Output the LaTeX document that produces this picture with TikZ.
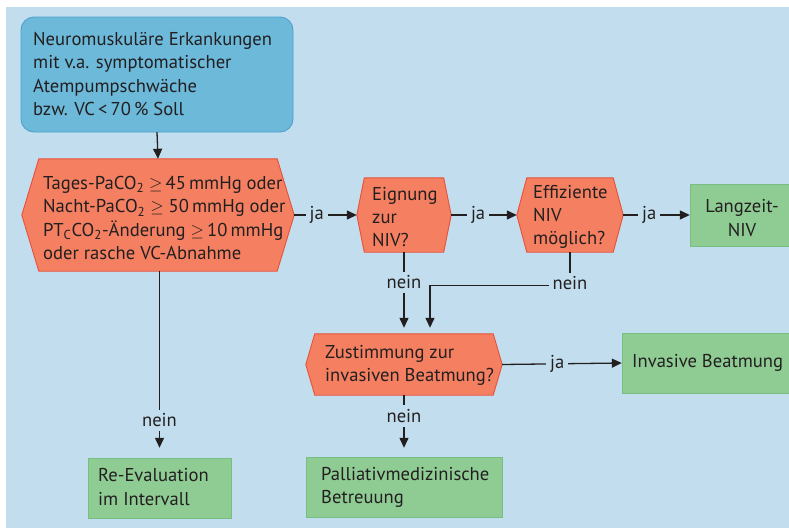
\documentclass[tikz,border=0pt]{standalone}
\usepackage{fontspec}
\setmainfont{PT Sans}
\usetikzlibrary{arrows.meta,calc}
\definecolor{bg}{RGB}{194,222,238}
\definecolor{topfill}{RGB}{108,185,218}
\definecolor{topdraw}{RGB}{80,160,204}
\definecolor{hexfill}{RGB}{244,128,97}
\definecolor{hexdraw}{RGB}{232,80,58}
\definecolor{grfill}{RGB}{143,204,148}
\definecolor{grdraw}{RGB}{120,190,130}
\definecolor{ink}{RGB}{35,31,32}
\tikzset{
  txt/.style={inner sep=0pt, anchor=west, align=left, text=ink,
    font=\fontsize{18.6}{23.2}\selectfont},
  geo/.style={draw=none, inner sep=0pt, minimum width=#1},
  hexstyle/.style={fill=hexfill, draw=hexdraw, line width=0.9pt},
  grbox/.style={fill=grfill, draw=grdraw, line width=0.9pt},
  conn/.style={draw=ink, line width=1.3pt, -{Triangle[length=10pt,width=9pt]}},
  plain/.style={draw=ink, line width=1.3pt},
  lab/.style={fill=bg, inner sep=4pt, text=ink, font=\fontsize{18.6}{20}\selectfont}
}
\newcommand\hexdraw[2]{\draw[hexstyle] (#1.west) -- ([xshift=#2]#1.north west) -- ([xshift=-#2]#1.north east) -- (#1.east) -- ([xshift=-#2]#1.south east) -- ([xshift=#2]#1.south west) -- cycle;}
\newcommand\gE{\ensuremath{\geq}}
\begin{document}
\begin{tikzpicture}[x=1pt,y=-1pt]
\useasboundingbox (0,0) rectangle (789,528);
\fill[bg] (6,7) rectangle (789,528);
% top box
\draw[fill=topfill, draw=topdraw, line width=0.9pt, rounded corners=13pt] (21,17) rectangle (293,132);
\node[geo=272pt, minimum height=115pt] (top) at (157,74.5) {};
\node[txt, font=\fontsize{18.6}{23.6}\selectfont] (toptxt) at (33,74) {Neuromuskuläre Erkankungen\\mit v.a. symptomatischer\\Atempumpschwäche\\bzw. VC\,<\,70\,\% Soll};
% hex 1
\node[geo=272pt, minimum height=112pt] (h1) at (158,215) {};
\hexdraw{h1}{17pt}
\node[txt, font=\fontsize{18.6}{23.5}\selectfont] (h1txt) at (43,218) {Tages-PaCO\textsubscript{2} \gE\,45\,mmHg oder\\Nacht-PaCO\textsubscript{2} \gE{} 50\,mmHg oder\\PT\textsubscript{C}CO\textsubscript{2}-Änderung \gE\,10\,mmHg\\oder rasche VC-Abnahme};
% hex 2
\node[geo=94pt, minimum height=74pt] (h2) at (404,215) {};
\hexdraw{h2}{7.5pt}
\node[txt] (h2txt) at (372,217) {Eignung\\zur\\NIV?};
% hex 3
\node[geo=106pt, minimum height=74pt] (h3) at (570,215) {};
\hexdraw{h3}{10pt}
\node[txt] (h3txt) at (533,217) {Effiziente\\NIV\\möglich?};
% Langzeit
\draw[grbox] (690,184) rectangle (795,246);
\node[geo=105pt, minimum height=62pt] (lz) at (742.5,215) {};
\node[txt, anchor=center, align=center] (lztxt) at (742,218) {Langzeit-\\NIV};
% hex 4
\node[geo=196pt, minimum height=61pt] (h4) at (404,364.5) {};
\hexdraw{h4}{9pt}
\node[txt] (h4txt) at (325,365) {Zustimmung zur\\invasiven Beatmung?};
% invasive
\draw[grbox] (622,333) rectangle (795,393);
\node[geo=170pt, minimum height=60pt] (inv) at (707,363) {};
\node[txt] (invtxt) at (632,363) {Invasive Beatmung};
% re-eval
\draw[grbox] (88,458) rectangle (231,518);
\node[geo=143pt, minimum height=60pt] (re) at (159.5,488) {};
\node[txt] (retxt) at (98,487) {Re-Evaluation\\im Intervall};
% palliativ
\draw[grbox] (306,457) rectangle (502,517);
\node[geo=196pt, minimum height=60pt] (pal) at (404,487) {};
\node[txt] (paltxt) at (321,487) {Palliativmedizinische\\Betreuung};
% connectors
\draw[conn] (top.south) -- (h1.north);
\draw[conn] (h1.east) -- node[lab, pos=0.36]{ja} (h2.west);
\draw[conn] (h2.east) -- node[lab, pos=0.41]{ja} (h3.west);
\draw[conn] (h3.east) -- node[lab, pos=0.39]{ja} (lz.west);
\draw[conn, shorten >=6pt] (h2.south) -- node[lab, pos=0.37]{nein} (h4.north);
\coordinate (c1) at ($(h4.north)+(26,0)$);
\coordinate (c2) at ($(h3.south)+(0,33)$);
\draw[conn, shorten >=6pt] (h3.south) -- (c2) -| (c1);
\node[lab] (n3) at ($(c2)+(0,-2)$) {nein};
\draw[conn] (h4.east) -- node[lab, pos=0.46]{ja} (inv.west);
\draw[conn, shorten >=9pt] (h4.south) -- node[lab, pos=0.34]{nein} (pal.north);
\draw[conn, shorten >=10pt] (re.north |- h1.south) -- node[lab, pos=0.8]{nein} (re.north);
\end{tikzpicture}
\end{document}
